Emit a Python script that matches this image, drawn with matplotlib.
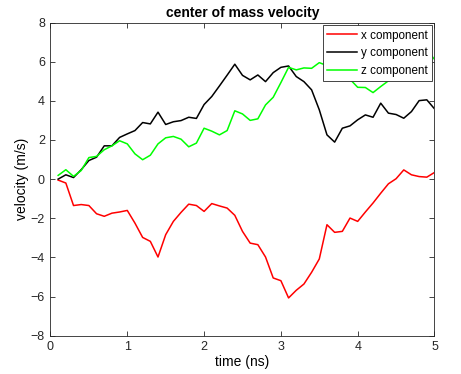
import numpy as np
import matplotlib
matplotlib.use("Agg")
import matplotlib.pyplot as plt

t = [round(0.1 * i, 1) for i in range(1, 51)]

vx = [-0.05, -0.2, -1.35, -1.3, -1.35, -1.77, -1.9, -1.74, -1.68, -1.6,
      -2.25, -2.98, -3.18, -3.98, -2.84, -2.16, -1.7, -1.28, -1.35, -1.65,
      -1.25, -1.37, -1.48, -1.85, -2.67, -3.27, -3.35, -3.98, -5.05, -5.19,
      -6.07, -5.68, -5.36, -4.76, -4.08, -2.33, -2.72, -2.67, -1.99, -2.16,
      -1.68, -1.22, -0.72, -0.24, 0.02, 0.47, 0.22, 0.13, 0.1, 0.34]

vy = [0.0, 0.22, 0.08, 0.48, 0.95, 1.12, 1.7, 1.7, 2.13, 2.31,
      2.48, 2.89, 2.82, 3.42, 2.79, 2.93, 2.99, 3.16, 3.1, 3.81,
      4.22, 4.76, 5.31, 5.87, 5.3, 5.07, 5.32, 4.98, 5.44, 5.71,
      5.78, 5.24, 4.98, 4.56, 3.54, 2.26, 1.89, 2.6, 2.72, 3.03,
      3.28, 3.16, 3.88, 3.37, 3.3, 3.11, 3.45, 4.01, 4.05, 3.59]

vz = [0.19, 0.48, 0.14, 0.44, 1.1, 1.16, 1.5, 1.7, 1.96, 1.8,
      1.29, 0.99, 1.22, 1.8, 2.11, 2.18, 2.04, 1.65, 1.84, 2.6,
      2.45, 2.26, 2.48, 3.49, 3.33, 3.0, 3.08, 3.79, 4.18, 4.93,
      5.71, 5.58, 5.68, 5.66, 5.95, 5.8, 5.5, 5.3, 5.1, 4.69,
      4.68, 4.42, 4.73, 5.02, 5.19, 5.07, 5.6, 6.2, 6.6, 6.12]

xticks = [0, 1, 2, 3, 4, 5]
yticks = [-8, -6, -4, -2, 0, 2, 4, 6, 8]

plt.rcParams['font.family'] = ['Liberation Sans', 'DejaVu Sans']
fig = plt.figure(figsize=(4.61, 3.74), dpi=100)
ax = fig.add_axes([0.1095, 0.1024, 0.833, 0.8374])

ax.plot(t, vx, color=(1, 0, 0), lw=1.1, label='x component')
ax.plot(t, vy, color='black', lw=1.1, label='y component')
ax.plot(t, vz, color=(0, 1, 0), lw=1.1, label='z component')

ax.set_xlim(0, 5)
ax.set_ylim(-8, 8)
ax.set_xticks(xticks)
ax.set_yticks(yticks)
ax.tick_params(direction='in', length=3.5, width=0.6, top=True, right=True,
               labelsize=9, colors='#262626', pad=4)
for s in ax.spines.values():
    s.set_color('#262626')
    s.set_linewidth(0.6)

ax.set_title('center of mass velocity', fontsize=10, fontweight='bold', pad=4)
ax.set_xlabel('time (ns)', fontsize=10, labelpad=1)
ax.set_ylabel('velocity (m/s)', fontsize=10, labelpad=1)

leg = ax.legend(loc='upper right', fontsize=8.4, frameon=True, fancybox=False,
                edgecolor='#262626', framealpha=1, borderaxespad=0.25,
                handlelength=2.6, handletextpad=0.3, borderpad=0.35,
                labelspacing=0.5)
leg.get_frame().set_linewidth(0.6)

fig.savefig('out.png', dpi=100)
